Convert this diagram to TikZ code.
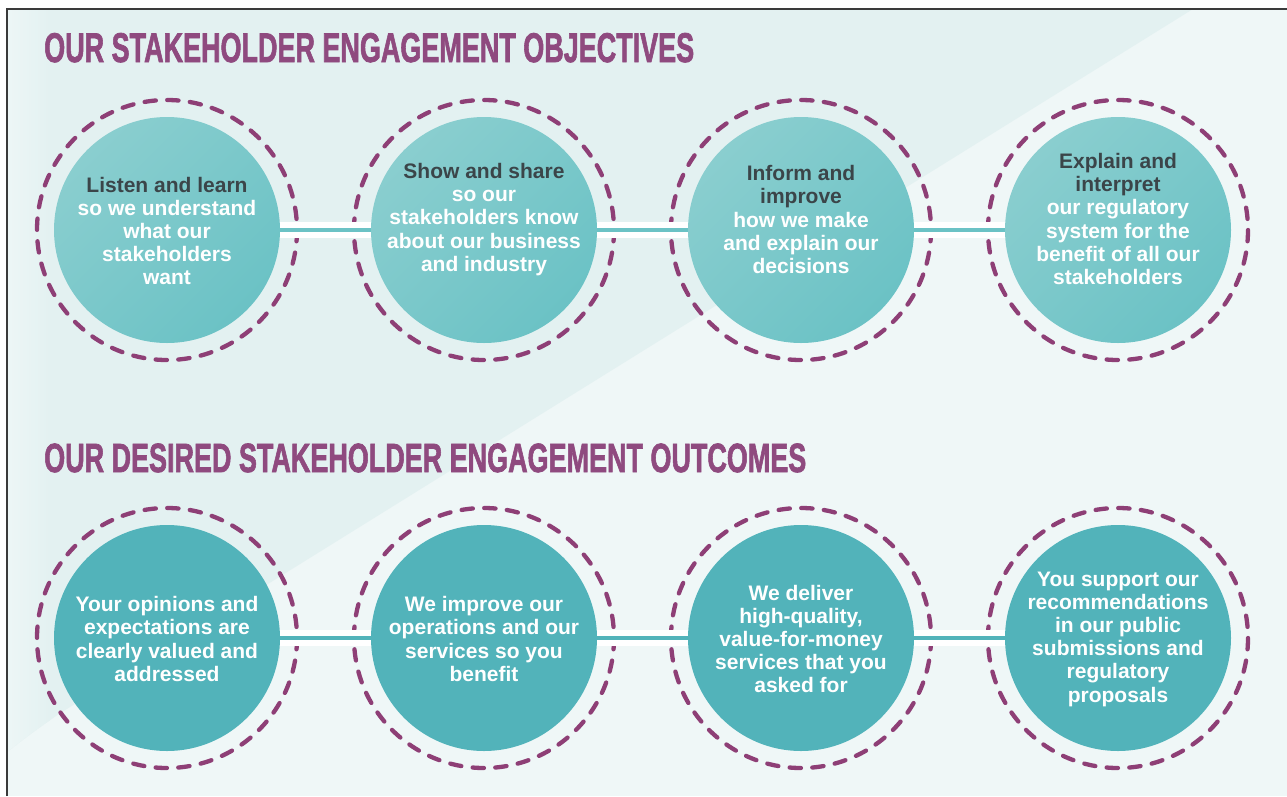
\documentclass[tikz,border=0pt]{standalone}
\usepackage{fontspec}
\setmainfont{Liberation Sans}
\newfontfamily\ttlfont[FakeBold=2]{Liberation Sans Bold}
\usepackage{graphicx}
\definecolor{bgA}{HTML}{E3F1F1}
\definecolor{bgAl}{HTML}{EDF6F6}
\definecolor{bgB}{HTML}{EFF7F7}
\definecolor{framec}{HTML}{3A3A3A}
\definecolor{titlec}{HTML}{8F4A7F}
\definecolor{ringc}{HTML}{8E3F76}
\definecolor{tealA}{HTML}{8ACECF}
\definecolor{tealB}{HTML}{6BC2C5}
\definecolor{tealC}{HTML}{52B3BA}
\definecolor{darktxt}{HTML}{3B4549}
\tikzset{
  ring/.style={draw=ringc, line width=4.3pt, line cap=round, dash pattern=on 11.3pt off 11.4pt},
  discA/.style={circle, inner sep=0pt, minimum size=226pt, top color=tealA, bottom color=tealB, shading angle=45, draw=none},
  discB/.style={circle, inner sep=0pt, minimum size=226pt, fill=tealC, draw=none},
  txt/.style={inner sep=0pt, align=center, text=white, font=\fontsize{21}{23.2}\selectfont\bfseries},
  bandw/.style={draw=white, line width=16.5pt},
  bandA/.style={draw=tealB, line width=3.8pt},
  bandB/.style={draw=tealC, line width=3.8pt},
  ttl/.style={inner sep=0pt, anchor=base west, text=titlec, font=\ttlfont}
}
\newcommand{\hd}[1]{\textcolor{darktxt}{#1}}
\begin{document}
\begin{tikzpicture}[x=1pt,y=-1pt]
\useasboundingbox (0,0) rectangle (1287,796);
% background
\fill[white] (0,0) rectangle (1287,796);
\fill[bgB] (7,9) rectangle (1287,796);
\begin{scope}
\clip (7,9) -- (1193,9) -- (62,712) .. controls (35,730) and (20,742) .. (7,752) -- cycle;
\fill[bgA] (7,9) rectangle (1193,796);
\shade[left color=bgAl, right color=bgA] (7,9) rectangle (50,796);
\end{scope}
\draw[framec, line width=2pt] (7,796) -- (7,9) -- (1287,9);
% titles
\node[ttl] (t1) at (44,62) {\resizebox{650pt}{29pt}{OUR STAKEHOLDER ENGAGEMENT OBJECTIVES}};
\node[ttl] (t2) at (44,472) {\resizebox{762pt}{28.5pt}{OUR DESIRED STAKEHOLDER ENGAGEMENT OUTCOMES}};
% centres
\coordinate (c1) at (167,230);
\coordinate (c2) at (484,230);
\coordinate (c3) at (801,230);
\coordinate (c4) at (1118,230);
\coordinate (d1) at (167,638);
\coordinate (d2) at (484,638);
\coordinate (d3) at (801,638);
\coordinate (d4) at (1118,638);
% rings
\foreach \c in {c1,c2,c3,c4,d1,d2,d3,d4} {\draw[ring] (\c) circle[radius=130];}
% discs
\node[discA] (a1) at (c1) {};
\node[discA] (a2) at (c2) {};
\node[discA] (a3) at (c3) {};
\node[discA] (a4) at (c4) {};
\node[discB] (b1) at (d1) {};
\node[discB] (b2) at (d2) {};
\node[discB] (b3) at (d3) {};
\node[discB] (b4) at (d4) {};
% connectors
\foreach \p/\q in {a1/a2,a2/a3,a3/a4} {\draw[bandw] (\p.east) -- (\q.west); \draw[bandA] (\p.east) -- (\q.west);}
\foreach \p/\q in {b1/b2,b2/b3,b3/b4} {\draw[bandw] (\p.east) -- (\q.west); \draw[bandB] (\p.east) -- (\q.west);}
% texts
\node[txt] (x1) at (167,231) {\hd{Listen and learn}\\so we understand\\what our\\stakeholders\\want};
\node[txt] (x2) at (484,219.5) {\hd{Show and share}\\so our\\stakeholders know\\about our business\\and industry};
\node[txt] (x3) at (801,219.5) {\hd{Inform and}\\\hd{improve}\\how we make\\and explain our\\decisions};
\node[txt] (x4) at (1118,219) {\hd{Explain and}\\\hd{interpret}\\our regulatory\\system for the\\benefit of all our\\stakeholders};
\node[txt] (y1) at (167,639) {Your opinions and\\expectations are\\clearly valued and\\addressed};
\node[txt] (y2) at (484,639) {We improve our\\operations and our\\services so you\\benefit};
\node[txt] (y3) at (801,639) {We deliver\\high-quality,\\value-for-money\\services that you\\asked for};
\node[txt] (y4) at (1118,639) {You support our\\recommendations\\in our public\\submissions and\\regulatory\\proposals};
\end{tikzpicture}
\end{document}
